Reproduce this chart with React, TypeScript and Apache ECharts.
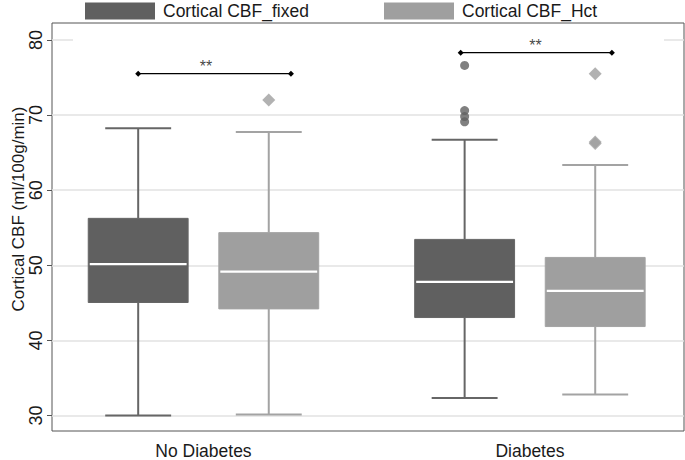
import React, { useEffect, useRef } from "react";
import * as echarts from "echarts";

// ---- data ----
const groups = ["No Diabetes", "Diabetes"];
const groupPos = [1, 2];
const seriesNames = ["Cortical CBF_fixed", "Cortical CBF_Hct"];
// [lower whisker, Q1, median, Q3, upper whisker]
const fixedStats = [
  [30.0, 45.05, 50.15, 56.25, 68.25],
  [32.35, 43.05, 47.8, 53.45, 66.7],
];
const hctStats = [
  [30.15, 44.2, 49.15, 54.35, 67.75],
  [32.8, 41.85, 46.6, 51.05, 63.35],
];
const fixedOutliers: number[][] = [[], [76.6, 70.6, 69.8, 69.1]];
const hctOutliers: number[][] = [[72.0], [75.5, 66.4, 66.2]];
const sigLevels = [75.5, 78.3];
const sigStart = [0.8, 1.788];
const sigEnd = [1.268, 2.251];
const sigStarX = [1.008, 2.017];
const sigText = ["**", "**"];
const yTicks = [30, 40, 50, 60, 70, 80];

// ---- layout constants ----
const OFFSET = 0.2;
const BOX_W = 0.306;
const DARK = "#606060";
const DARK_LINE = "#666666";
const LIGHT = "#9f9f9f";
const LIGHT_LINE = "#a3a3a3";
const FONT = "'Liberation Sans', Arial, Helvetica, sans-serif";

const makeRender = (fill: string, lineColor: string) => (params: any, api: any) => {
  const x = api.value(0);
  const p = api.coord([x, api.value(1)]);
  const cx = p[0];
  const yLo = p[1];
  const yQ1 = api.coord([x, api.value(2)])[1];
  const yMed = api.coord([x, api.value(3)])[1];
  const yQ3 = api.coord([x, api.value(4)])[1];
  const yHi = api.coord([x, api.value(5)])[1];
  const bw = api.size([BOX_W, 0])[0];
  const cw = bw * 0.66;
  const ls = { stroke: lineColor, lineWidth: 2 };
  return {
    type: "group",
    children: [
      { type: "line", shape: { x1: cx, y1: yHi, x2: cx, y2: yQ3 }, style: ls },
      { type: "line", shape: { x1: cx, y1: yQ1, x2: cx, y2: yLo }, style: ls },
      { type: "line", shape: { x1: cx - cw / 2, y1: yHi, x2: cx + cw / 2, y2: yHi }, style: ls },
      { type: "line", shape: { x1: cx - cw / 2, y1: yLo, x2: cx + cw / 2, y2: yLo }, style: ls },
      {
        type: "rect",
        shape: { x: cx - bw / 2, y: yQ3, width: bw, height: yQ1 - yQ3 },
        style: { fill, stroke: lineColor, lineWidth: 1 },
      },
      {
        type: "line",
        shape: { x1: cx - bw / 2 + 1.5, y1: yMed, x2: cx + bw / 2 - 1.5, y2: yMed },
        style: { stroke: "#ffffff", lineWidth: 2.2 },
      },
    ],
  };
};

export default function App() {
  const ref = useRef<HTMLDivElement>(null);

  useEffect(() => {
    if (!ref.current) return;
    const chart = echarts.init(ref.current, undefined, { renderer: "svg" });

    const fixedData = groupPos.map((g, i) => [g - OFFSET, ...fixedStats[i]]);
    const hctData = groupPos.map((g, i) => [g + OFFSET, ...hctStats[i]]);
    const fixedOut: number[][] = [];
    fixedOutliers.forEach((arr, i) => arr.forEach((v) => fixedOut.push([groupPos[i] - OFFSET, v])));
    const hctOut: number[][] = [];
    hctOutliers.forEach((arr, i) => arr.forEach((v) => hctOut.push([groupPos[i] + OFFSET, v])));

    const sigSeries = sigLevels.map((lvl, i) => ({
      type: "line",
      name: "sig" + i,
      data: [
        [sigStart[i], lvl],
        [sigEnd[i], lvl],
      ],
      symbol: "diamond",
      symbolSize: 6,
      showSymbol: true,
      itemStyle: { color: "#000" },
      lineStyle: { color: "#000", width: 1.2 },
      z: 5,
      silent: true,
    }));

    const starSeries = {
      type: "scatter",
      name: "stars",
      data: sigLevels.map((lvl, i) => ({ value: [sigStarX[i], lvl], label: { formatter: sigText[i] } })),
      symbolSize: 0.1,
      itemStyle: { color: "transparent" },
      label: {
        show: true,
        position: "top",
        distance: -1,
        color: "#111",
        fontSize: 16,
        fontFamily: FONT,
      },
      z: 6,
      silent: true,
    };

    const legendCommon = {
      top: 2,
      padding: 0,
      itemWidth: 70,
      itemHeight: 17,
      icon: "rect",
      selectedMode: false,
      itemStyle: { borderWidth: 0 },
      textStyle: { fontSize: 17.5, color: "#1a1a1a", fontFamily: FONT, padding: [5, 0, 0, 3] },
    };

    chart.setOption({
      animation: false,
      backgroundColor: "#ffffff",
      textStyle: { fontFamily: FONT },
      grid: {
        left: 52,
        right: 1,
        top: 23,
        bottom: 27,
        show: true,
        borderColor: "#555",
        borderWidth: 1,
        backgroundColor: "transparent",
      },
      legend: [
        { ...legendCommon, data: [{ name: seriesNames[0] }], left: 85 },
        { ...legendCommon, data: [{ name: seriesNames[1] }], left: 384 },
      ],
      xAxis: {
        type: "value",
        min: 0.536,
        max: 2.472,
        axisLine: { show: false },
        axisTick: { show: false },
        splitLine: { show: false },
        axisLabel: {
          customValues: groupPos,
          formatter: (v: number) => groups[groupPos.indexOf(v)] ?? "",
          fontSize: 17.5,
          color: "#1a1a1a",
          margin: 11,
          fontFamily: FONT,
        },
      },
      yAxis: {
        type: "value",
        min: 27.95,
        max: 82.25,
        axisLine: { show: false },
        axisTick: {
          show: true,
          customValues: yTicks,
          length: 5,
          lineStyle: { color: "#555" },
        },
        axisLabel: {
          customValues: yTicks,
          rotate: 90,
          fontSize: 18,
          color: "#1a1a1a",
          margin: 7,
          fontFamily: FONT,
        },
        splitLine: { show: true, lineStyle: { color: "#e2e2e2", width: 1.5 } },
      },
      graphic: [
        {
          type: "rect",
          shape: { x: 73, y: 38.5, width: 591, height: 3 },
          style: { fill: "#ffffff" },
          z: 1,
          silent: true,
        },
        {
          type: "text",
          x: 18,
          y: 209,
          rotation: Math.PI / 2,
          style: {
            text: "Cortical CBF (ml/100g/min)",
            fontSize: 17,
            fontFamily: FONT,
            fill: "#1a1a1a",
            align: "center",
            verticalAlign: "middle",
          },
          z: 10,
        },
      ],
      series: [
        {
          type: "custom",
          name: seriesNames[0],
          renderItem: makeRender(DARK, DARK_LINE),
          itemStyle: { color: DARK },
          encode: { x: 0, y: [1, 2, 3, 4, 5] },
          data: fixedData,
          z: 3,
        },
        {
          type: "custom",
          name: seriesNames[1],
          renderItem: makeRender(LIGHT, LIGHT_LINE),
          itemStyle: { color: LIGHT },
          encode: { x: 0, y: [1, 2, 3, 4, 5] },
          data: hctData,
          z: 3,
        },
        {
          type: "scatter",
          name: "fixed outliers",
          data: fixedOut,
          symbol: "circle",
          symbolSize: 9,
          itemStyle: { color: DARK },
          z: 4,
        },
        {
          type: "scatter",
          name: "hct outliers",
          data: hctOut,
          symbol: "diamond",
          symbolSize: 13,
          itemStyle: { color: LIGHT },
          z: 4,
        },
        ...sigSeries,
        starSeries,
      ],
    });

    return () => chart.dispose();
  }, []);

  return (
    <div
      ref={ref}
      style={{ position: "absolute", left: 0, top: 0, width: 685, height: 460 }}
    />
  );
}
